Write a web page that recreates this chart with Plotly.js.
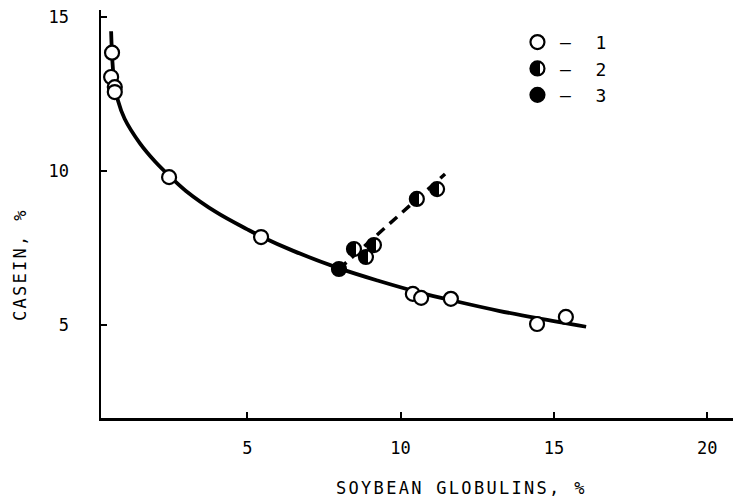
<!DOCTYPE html>
<html>
<head>
<meta charset="utf-8">
<script src="https://cdn.plot.ly/plotly-3.0.1.min.js"></script>
<style>
html,body{margin:0;padding:0;background:#fff;}
#chart{width:733px;height:497px;}
.annotation-text{letter-spacing:2.3px;}
.legendtext{letter-spacing:1px;}
</style>
</head>
<body>
<div id="chart"></div>
<script>
// Series 1 (open circles)
var s1x = [0.59, 0.56, 0.68, 0.68, 2.45, 5.45, 10.40, 10.67, 11.64, 14.45, 15.39];
var s1y = [13.85, 13.06, 12.73, 12.57, 9.80, 7.85, 6.00, 5.87, 5.84, 5.02, 5.25];
// Series 2 (half-filled circles)
var s2x = [8.48, 8.87, 9.13, 10.53, 11.19];
var s2y = [7.46, 7.20, 7.59, 9.09, 9.41];
// Series 3 (filled circle)
var s3x = [7.99];
var s3y = [6.81];
// Solid fitted curve (hand-drawn in the original)
var curveX = [0.56, 0.60, 0.66, 0.78, 1.00, 1.50, 2.00, 2.45, 3.00, 4.00, 5.00, 5.45, 6.50, 8.00, 9.30, 10.60, 11.80, 13.20, 14.50, 16.05];
var curveY = [14.55, 13.60, 12.90, 12.30, 11.70, 10.90, 10.30, 9.85, 9.35, 8.65, 8.10, 7.87, 7.40, 6.83, 6.42, 6.05, 5.76, 5.45, 5.20, 4.93];
// Dashed line
var dashX = [7.99, 11.45];
var dashY = [6.81, 9.90];
// Ticks and labels
var xTicks = [5, 10, 15, 20];
var yTicks = [5, 10, 15];
var legendNames = ['\u2013\u00a0\u00a01', '\u2013\u00a0\u00a02', '\u2013\u00a0\u00a03'];
var xTitle = 'SOYBEAN GLOBULINS, %';
var yTitle = 'CASEIN, %';

var fontFam = '"DejaVu Sans Mono", monospace';

var traces = [
  {x: curveX, y: curveY, mode: 'lines', line: {color: '#000', width: 3.8, shape: 'spline', smoothing: 1}, showlegend: false, hoverinfo: 'skip'},
  {x: dashX, y: dashY, mode: 'lines', line: {color: '#000', width: 3.5, dash: '10px,7px'}, showlegend: false, hoverinfo: 'skip'},
  {x: s1x, y: s1y, mode: 'markers', name: legendNames[0], legendgroup: 'a',
   marker: {symbol: 'circle', size: 14, color: '#fff', line: {color: '#000', width: 2.2}}},
  {x: s2x, y: s2y, mode: 'markers', name: legendNames[1], legendgroup: 'b',
   marker: {symbol: 'circle', size: 14, color: '#000', gradient: {type: 'horizontal', color: '#fff'}, line: {color: '#000', width: 2.2}}},
  {x: s3x, y: s3y, mode: 'markers', name: legendNames[2], legendgroup: 'c',
   marker: {symbol: 'circle', size: 14, color: '#000', line: {color: '#000', width: 2.2}}}
];

var layout = {
  width: 733, height: 497,
  margin: {l: 101, r: 0, t: 10, b: 79},
  paper_bgcolor: '#fff', plot_bgcolor: '#fff',
  font: {family: fontFam, color: '#000', size: 17},
  showlegend: true,
  legend: {x: 0.655, y: 0.966, xanchor: 'left', yanchor: 'top', bgcolor: 'rgba(0,0,0,0)',
           font: {family: fontFam, size: 18, color: '#000'}, traceorder: 'grouped', tracegroupgap: 0, itemwidth: 35},
  xaxis: {range: [0.23, 20.84], showgrid: false, zeroline: false, showline: true, linecolor: '#000', linewidth: 2.5,
          ticks: 'inside', ticklen: 6, tickwidth: 2, tickcolor: '#000', tickvals: xTicks, ticktext: xTicks.map(String),
          ticklabelstandoff: 13, tickfont: {family: fontFam, size: 17, color: '#000'}, fixedrange: true},
  yaxis: {range: [1.96, 15.24], showgrid: false, zeroline: false, showline: true, linecolor: '#000', linewidth: 2.5,
          ticks: 'inside', ticklen: 6, tickwidth: 2, tickcolor: '#000', tickvals: yTicks, ticktext: yTicks.map(String),
          ticklabelstandoff: 26, tickfont: {family: fontFam, size: 17, color: '#000'}, fixedrange: true},
  annotations: [
    {text: xTitle, xref: 'paper', yref: 'paper', x: 0.571, y: -0.1716, xanchor: 'center', yanchor: 'middle', showarrow: false,
     font: {family: fontFam, size: 17, color: '#000'}},
    {text: yTitle, xref: 'paper', yref: 'paper', x: -0.128, y: 0.375, xanchor: 'center', yanchor: 'middle', showarrow: false,
     textangle: -90, font: {family: fontFam, size: 17, color: '#000'}}
  ]
};

Plotly.newPlot('chart', traces, layout, {displayModeBar: false, staticPlot: true}).then(function (gd) {
  // sharpen the horizontal marker gradient into a half-filled look
  var grads = gd.querySelectorAll('linearGradient');
  grads.forEach(function (g) {
    while (g.firstChild) g.removeChild(g.firstChild);
    var stops = [[0, '#fff'], [0.35, '#fff'], [0.35, '#000'], [1, '#000']];
    stops.forEach(function (s) {
      var st = document.createElementNS('http://www.w3.org/2000/svg', 'stop');
      st.setAttribute('offset', (s[0] * 100) + '%');
      st.setAttribute('stop-color', s[1]);
      g.appendChild(st);
    });
  });
});
</script>
</body>
</html>
